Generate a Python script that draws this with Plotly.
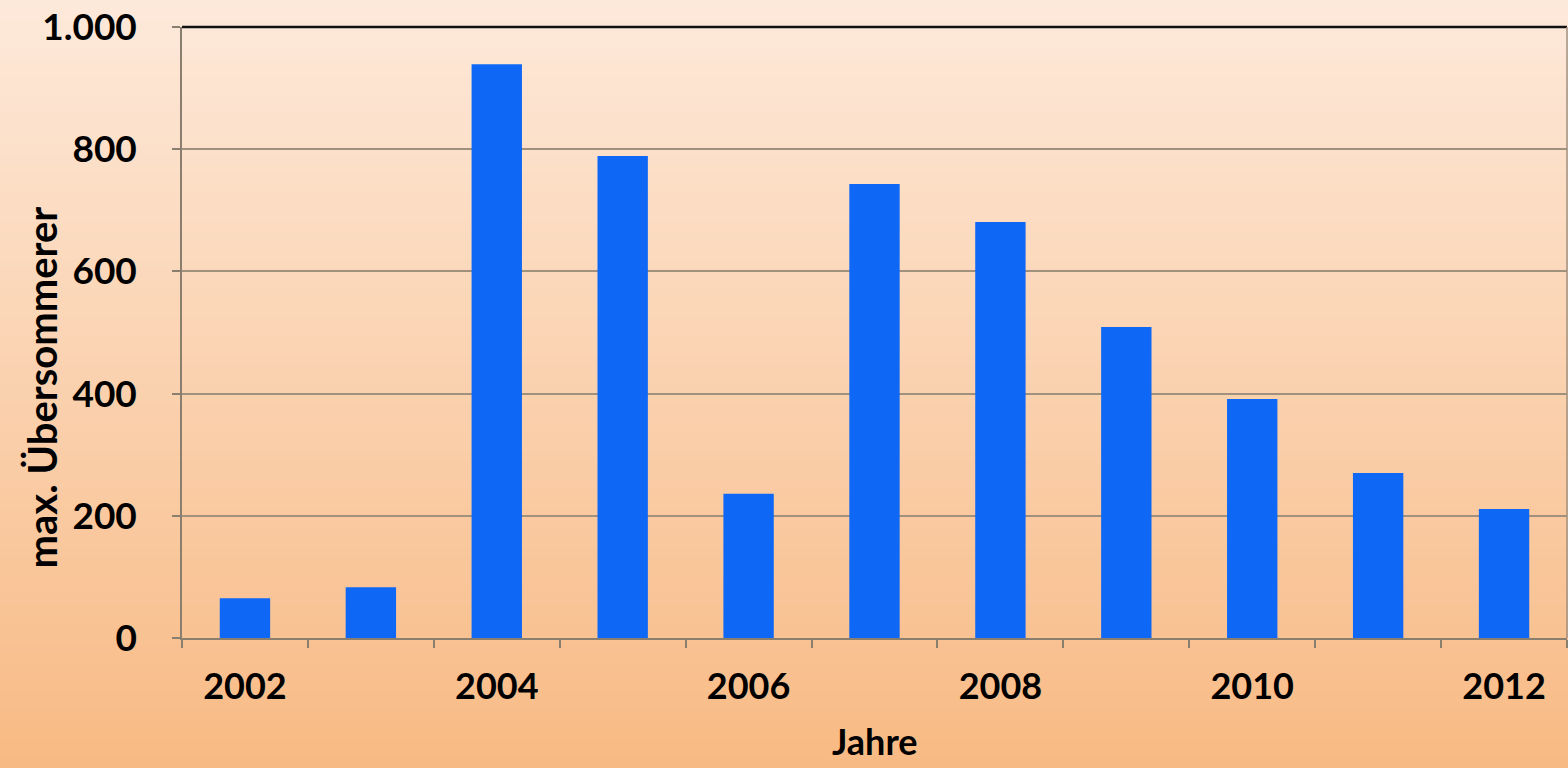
import plotly.graph_objects as go

years = ["2002", "2003", "2004", "2005", "2006", "2007", "2008", "2009", "2010", "2011", "2012"]
values = [65, 83, 939, 789, 236, 743, 681, 509, 391, 270, 211]
x_ticktext = ["2002", "", "2004", "", "2006", "", "2008", "", "2010", "", "2012"]
y_tickvals = [0, 200, 400, 600, 800, 1000]
y_ticktext = ["0", "200", "400", "600", "800", "1.000"]

FONT = "Lato"

fig = go.Figure()
fig.add_trace(go.Bar(x=years, y=values, marker=dict(color="#0e67f5", line=dict(width=0))))

# vertical gradient background (paper coords span plot area 27..638 px)
shapes = []
n = 80
top = (253, 233, 218)
bot = (248, 186, 132)
H = 611.0
for i in range(n):
    t = i / (n - 1)
    c = tuple(round(top[k] + (bot[k] - top[k]) * t) for k in range(3))
    y_hi = 1 + 27 / H - i * (768 / H) / n
    y_lo = 1 + 27 / H - (i + 1) * (768 / H) / n - 0.002
    shapes.append(dict(type="rect", xref="paper", yref="paper",
                       x0=-1, x1=2, y0=y_lo, y1=y_hi,
                       fillcolor="rgb(%d,%d,%d)" % c, line=dict(width=0), layer="below"))
# top frame line and right border
shapes.append(dict(type="line", xref="paper", yref="paper", x0=0, x1=1, y0=1, y1=1,
                   line=dict(color="#111111", width=2.5)))
shapes.append(dict(type="line", xref="paper", yref="paper", x0=1, x1=1, y0=0, y1=1,
                   line=dict(color="#a09080", width=1.5)))

fig.update_layout(
    width=1568, height=768,
    margin=dict(l=182, r=1, t=27, b=130),
    paper_bgcolor="#fbd2b0",
    plot_bgcolor="rgba(0,0,0,0)",
    bargap=0.6,
    showlegend=False,
    shapes=shapes,
    font=dict(family=FONT, color="#000000"),
    xaxis=dict(
        type="category", tickvals=years, ticktext=x_ticktext, tickson="boundaries",
        ticks="outside", ticklen=8, tickcolor="#8a7e6e", tickwidth=1.5,
        showline=True, linecolor="#8a7e6e", linewidth=1.5,
        showgrid=False, ticklabelstandoff=16,
        tickfont=dict(family=FONT, size=36, color="#000000", weight="bold"),
    ),
    yaxis=dict(
        range=[0, 1000], tickvals=y_tickvals, ticktext=y_ticktext,
        ticks="outside", ticklen=8, tickcolor="#8a7e6e", tickwidth=1.5,
        showline=True, linecolor="#8a7e6e", linewidth=1.5,
        showgrid=True, gridcolor="#a0907e", gridwidth=1.5,
        zeroline=False, ticklabelstandoff=28,
        tickfont=dict(family=FONT, size=37, color="#000000", weight="bold"),
    ),
    annotations=[
        dict(text="max. Übersommerer", xref="paper", yref="paper", x=0, y=0.5,
             xshift=-141, yshift=-55, textangle=-90, showarrow=False,
             xanchor="center", yanchor="middle",
             font=dict(family=FONT, size=40, color="#000000", weight="bold")),
        dict(text="Jahre", xref="paper", yref="paper", x=0.5, y=0, yshift=-103,
             showarrow=False, xanchor="center", yanchor="middle",
             font=dict(family=FONT, size=36, color="#000000", weight="bold")),
    ],
)

fig.write_html("out.html")
